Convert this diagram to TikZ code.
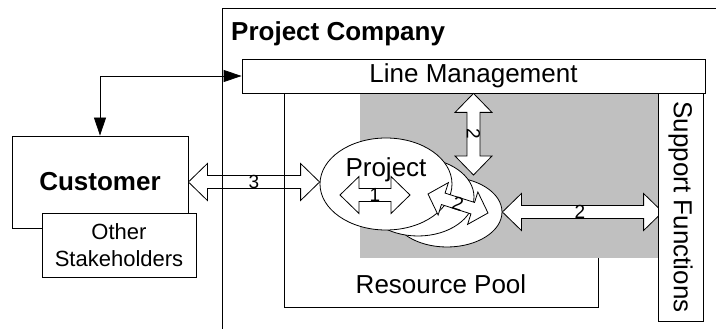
\documentclass[tikz,border=0pt]{standalone}
\usepackage{fontspec}
\setmainfont{Liberation Sans}
\usetikzlibrary{arrows.meta,calc,shapes.geometric}
\pgfdeclarelayer{bg}\pgfdeclarelayer{fg}\pgfsetlayers{bg,main,fg}
\definecolor{poolgray}{RGB}{192,192,192}
\tikzset{
 box/.style={draw=black, line width=0.8pt, fill=white, inner sep=0pt},
 big/.style={font=\fontsize{26}{31}\selectfont},
 bigb/.style={font=\fontsize{26}{31}\selectfont\bfseries},
 lbl/.style={font=\fontsize{19}{22}\selectfont, inner sep=0pt},
 projshape/.style={ellipse, draw=black, line width=0.8pt, fill=white, inner sep=0pt},
 blockarr/.style={draw=black, line width=0.8pt, fill=white, line join=miter},
 conn/.style={line width=0.8pt, {Triangle[length=18pt,width=12pt]}-{Triangle[length=18pt,width=12pt]}},
 frame/.style={draw=black, line width=0.8pt},
}
\newcommand\blockarrow[5]{%
  \draw[blockarr] let \p1=(#1), \p2=(#2),
     \n1={atan2(\y2-\y1,\x2-\x1)}, \n2={veclen(\x2-\x1,\y2-\y1)} in
     {[shift={(\p1)}, rotate=\n1, x=1pt, y=1pt]
     (0,0) -- (#3,#4) -- (#3,#5) -- (\n2-#3,#5) -- (\n2-#3,#4) -- (\n2,0)
     -- (\n2-#3,-#4) -- (\n2-#3,-#5) -- (#3,-#5) -- (#3,-#4) -- cycle};}
\begin{document}
\begin{tikzpicture}[x=1pt,y=-1pt]
\useasboundingbox (0,0) rectangle (716,329);
% company frame
\draw[frame] (222,329) -- (222,8) -- (716,8);
\node[bigb, anchor=base west, inner sep=0pt] (title) at (231,41) {Project Company};
% customer
\node[box, bigb, minimum width=176, minimum height=92] (cust) at (100,182) {Customer};
\node[box, minimum width=154, minimum height=64, align=center,
      font=\fontsize{22}{26.5}\selectfont] (oth) at (119,245) {Other\\Stakeholders};
% resource pool
\node[frame, minimum width=314, minimum height=214, inner sep=0pt] (pool) at (441,200) {};
\node[big, anchor=base, inner sep=0pt] (pooltxt) at (441,293) {Resource Pool};
\fill[poolgray] (360,93) rectangle (658,258);
% line management
\node[box, big, minimum width=463, minimum height=34] (lm) at (473.5,76) {Line Management};
% support functions
\begin{pgfonlayer}{fg}
\node[box, big, rotate=-90, minimum width=228, minimum height=45] (sup) at (680.5,207) {Support Functions};
\end{pgfonlayer}
% project ellipses
\node[projshape, minimum width=110, minimum height=70] (proj3) at (447,212) {};
\node[projshape, minimum width=112, minimum height=78] (proj2) at (418,197) {};
\node[projshape, minimum width=132, minimum height=92] (proj) at (386,184) {};
% arrow 1
\coordinate (a1s) at (340,195);
\coordinate (a1e) at (410,195);
\blockarrow{a1s}{a1e}{19}{18.5}{6.5}
\node[big, anchor=base, inner sep=0pt] (projtxt) at (386,176) {Project};
\node[lbl] (l1) at ($(a1s)!0.5!(a1e)$) {1};
% tilted arrow 2
\coordinate (t2s) at (428,194);
\coordinate (t2e) at (488,213);
\blockarrow{t2s}{t2e}{16}{17}{6}
\node[lbl, rotate=-18] (lt2) at ($(t2s)!0.5!(t2e)$) {2};
% vertical arrow 2
\coordinate (v2e) at (473.5,175);
\blockarrow{lm.south}{v2e}{19}{18.5}{6.5}
\node[lbl, rotate=-90] (lv2) at ($(lm.south)!0.5!(v2e)$) {2};
% horizontal arrow 2
\coordinate (h2e) at ($(proj3.east -| sup.south)+(5,0)$);
\blockarrow{proj3.east}{h2e}{19}{18.5}{6.5}
\node[lbl] (lh2) at ($(proj3.east)!0.5!(proj3.east -| sup.south)$) {2};
% customer <-> line management
\draw[conn] (lm.west) -| (cust.north);
% arrow 3 (behind frames)
\begin{pgfonlayer}{bg}
\coordinate (a3e) at (cust.east -| proj.west);
\blockarrow{cust.east}{a3e}{19}{18.5}{6.5}
\end{pgfonlayer}
\node[lbl] (l3) at ($(cust.east)!0.5!(a3e)$) {3};
\end{tikzpicture}
\end{document}
